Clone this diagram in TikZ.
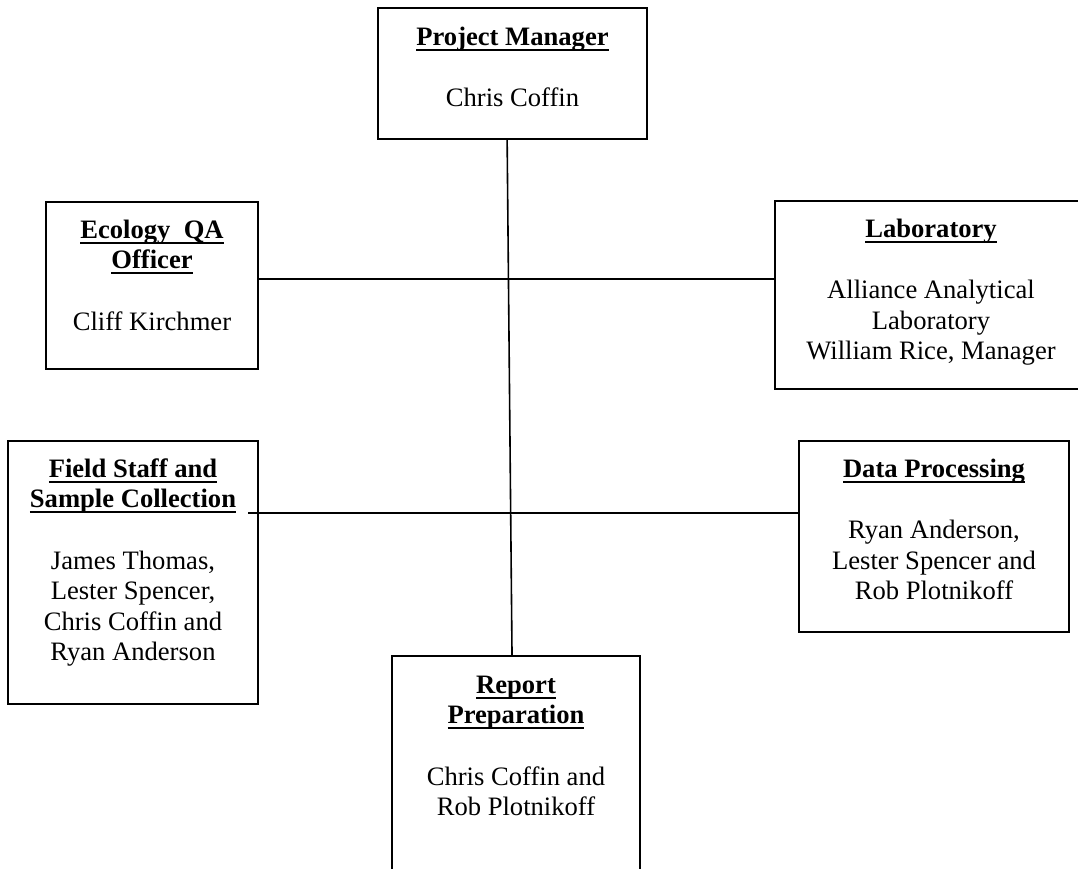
\documentclass[tikz,border=0pt]{standalone}
\usepackage{fontspec}
\setmainfont{Liberation Serif}
\usetikzlibrary{calc}
\newsavebox\ulbox
\newcommand\ulin[1]{\sbox\ulbox{#1}\rlap{\rule[-5.3pt]{\wd\ulbox}{1.8pt}}\usebox\ulbox}
\tikzset{
  box/.style={draw, line width=1.6pt, inner sep=0pt, outer sep=0pt},
  txt/.style={anchor=north, align=center, inner sep=0pt,
    font={\fontsize{26.6pt}{30.6pt}\selectfont}},
  link/.style={line width=1.6pt}
}
\begin{document}
\begin{tikzpicture}[x=1pt, y=-1pt]
\clip (0,0) rectangle (1078,869);
% boxes
\node[box, minimum width=269pt, minimum height=131pt] (pm)  at (512.5,73.5) {};
\node[box, minimum width=212pt, minimum height=167pt] (eco) at (152,285.5) {};
\node[box, minimum width=312pt, minimum height=188pt] (lab) at (931,295) {};
\node[box, minimum width=250pt, minimum height=263pt] (fld) at (133,572.5) {};
\node[box, minimum width=270pt, minimum height=191pt] (dat) at (934,536.5) {};
\node[box, minimum width=248pt, minimum height=229pt] (rep) at (516,770.5) {};
% texts
\node[txt] (pmt) at (512.5,23.6) {\strut\textbf{\ulin{Project Manager}}\\[30.6pt]Chris Coffin};
\node[txt] (ecot) at (152,216.6) {\strut\textbf{\ulin{Ecology\ \ QA}}\\\textbf{\ulin{Officer}}\\[30.6pt]Cliff Kirchmer};
\node[txt] (labt) at (931,215.6) {\strut\textbf{\ulin{Laboratory}}\\[30.6pt]Alliance Analytical\\Laboratory\\William Rice, Manager};
\node[txt] (fldt) at (133,455.6) {\strut\textbf{\ulin{Field Staff and}}\\\textbf{\ulin{Sample Collection}}\\[30.6pt]James Thomas,\\Lester Spencer,\\Chris Coffin and\\Ryan Anderson};
\node[txt] (datt) at (934,455.6) {\strut\textbf{\ulin{Data Processing}}\\[30.6pt]Ryan Anderson,\\Lester Spencer and\\Rob Plotnikoff};
\node[txt] (rept) at (516,671.6) {\strut\textbf{\ulin{Report}}\\\textbf{\ulin{Preparation}}\\[30.6pt]Chris Coffin and\\Rob Plotnikoff};
% connectors
\coordinate (vtop) at ($(pm.south west)!0.48!(pm.south east)$);
\coordinate (vbot) at ($(rep.north west)!0.484!(rep.north east)$);
\draw[link] (vtop) -- (vbot);
\coordinate (h1) at ($(eco.north east)!0.461!(eco.south east)$);
\draw[link] (h1) -- (h1 -| lab.west);
\coordinate (h2) at (248,513);
\draw[link] (h2) -- (h2 -| dat.west);
\end{tikzpicture}
\end{document}
